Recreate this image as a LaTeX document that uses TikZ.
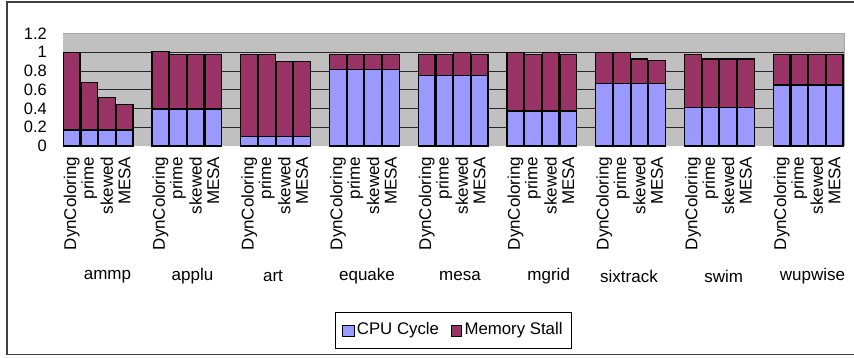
\documentclass[tikz,border=0pt]{standalone}
\usepackage{fontspec}
\setmainfont{Liberation Sans}
\definecolor{cpu}{HTML}{9999FF}
\definecolor{mem}{HTML}{993366}
\definecolor{plotbg}{HTML}{C0C0C0}
\definecolor{frame}{HTML}{404040}
\tikzset{
  barbox/.style={draw=black, line width=1.3pt},
  gridline/.style={draw=black!85, line width=0.9pt},
  ticklabel/.style={anchor=east, inner sep=0pt, font=\fontsize{16.5}{18}\selectfont},
  barlabel/.style={anchor=east, rotate=90, inner sep=0pt, font=\fontsize{17}{19}\selectfont},
  grouplabel/.style={inner sep=0pt, font=\fontsize{17}{19}\selectfont},
  legendtext/.style={anchor=west, inner sep=0pt, font=\fontsize{16.8}{19}\selectfont},
}
\begin{document}
\begin{tikzpicture}[x=1pt,y=-1pt]
\useasboundingbox (0,0) rectangle (854,358);
% outer frame (right side cut off)
\draw[frame, line width=1.5pt] (854,2) -- (7,2) -- (7,354.5) -- (854,354.5);
% plot area
\fill[plotbg] (63,33.6) rectangle (844,146);
\draw[gray!70, line width=0.8pt] (63,33.6) -- (844,33.6) -- (844,146);
\foreach \v in {0.2,0.4,0.6,0.8,1.0}
  \draw[gridline] (63,{146-93.7*\v}) -- (844,{146-93.7*\v});
% y tick labels
\foreach \v/\t [count=\i] in {0/0,0.2/0.2,0.4/0.4,0.6/0.6,0.8/0.8,1.0/1,1.2/1.2}
  \node[ticklabel] (tick\i) at (47,{146-93.7*\v}) {\t};
% bars
\foreach \name/\lx/\c/\ta/\tb/\tc/\td [count=\g from 0] in {
  ammp/107.5/0.17/1.0/0.675/0.515/0.445,
  applu/192.5/0.395/1.005/0.98/0.98/0.98,
  art/273/0.10/0.98/0.98/0.90/0.90,
  equake/367/0.82/0.98/0.98/0.98/0.98,
  mesa/460/0.755/0.98/0.98/1.0/0.98,
  mgrid/548.7/0.375/1.0/0.98/1.0/0.98,
  sixtrack/629/0.67/1.0/1.0/0.93/0.91,
  swim/723.8/0.41/0.98/0.93/0.93/0.93,
  wupwise/812.5/0.65/0.98/0.98/0.98/0.98}{
  \pgfmathsetmacro{\xo}{63.3+88.75*\g}
  \foreach \t/\lab [count=\k from 0] in {\ta/DynColoring,\tb/prime,\tc/skewed,\td/MESA}{
    \pgfmathsetmacro{\xl}{\xo+17.6*\k}
    \pgfmathsetmacro{\xr}{\xl+16.8}
    \filldraw[barbox, fill=mem] (\xl,{146-93.7*\t}) rectangle (\xr,146);
    \filldraw[barbox, fill=cpu] (\xl,{146-93.7*\c}) rectangle (\xr,146);
    \node[barlabel] (lab\g-\k) at ({\xl+8.4},156.5) {\lab};
  }
  \node[grouplabel] (grp\g) at (\lx,276.5) {\name};
}
% legend
\draw[black, line width=0.8pt] (335,312.3) rectangle (571,348.3);
\filldraw[black, line width=0.9pt, fill=cpu] (342.7,325) rectangle (354,336);
\node[legendtext] (legcpu) at (356.7,330.5) {CPU Cycle};
\filldraw[black, line width=0.9pt, fill=mem] (451,325) rectangle (461.7,336);
\node[legendtext] (legmem) at (464.3,330.5) {Memory Stall};
\end{tikzpicture}
\end{document}
